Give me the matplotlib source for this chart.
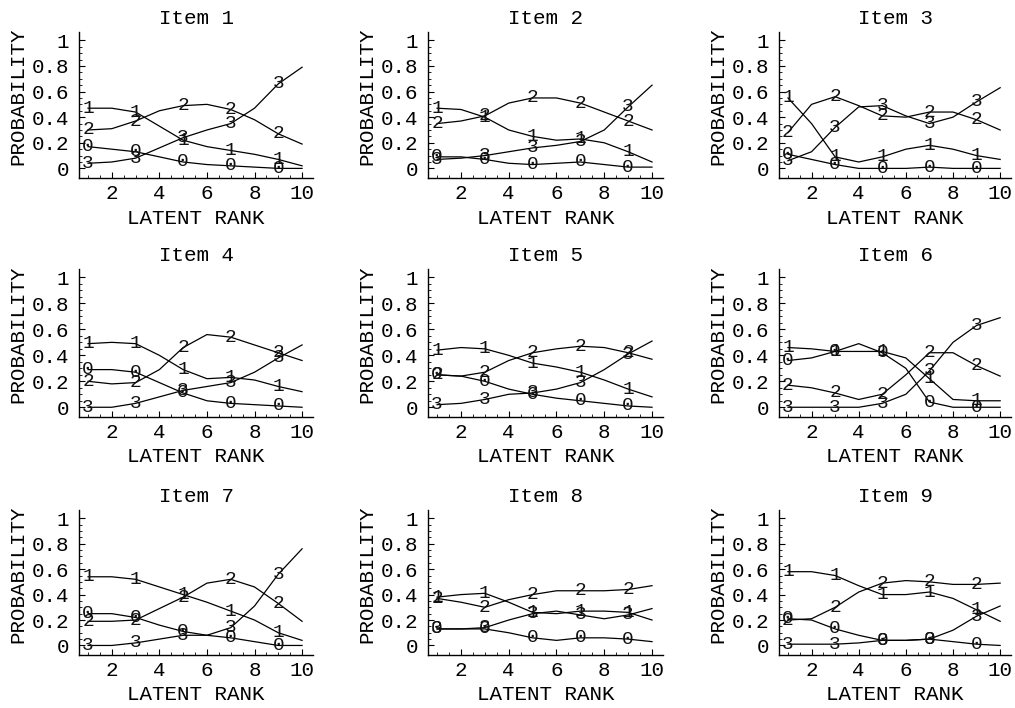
import numpy as np
import matplotlib.pyplot as plt

plt.rcParams['font.family'] = ['Liberation Mono', 'DejaVu Sans Mono']
plt.rcParams['axes.linewidth'] = 1.0

ranks = np.arange(1, 11)
label_ranks = [1, 3, 5, 7, 9]
categories = [0, 1, 2, 3]
titles = ["Item %d" % i for i in range(1, 10)]

# category response probabilities per latent rank (rows: category 0..3)
item1 = [[.17, .15, .13, .09, .05, .03, .02, .01, .00, .00],
         [.47, .47, .44, .33, .22, .17, .14, .11, .07, .02],
         [.30, .31, .37, .45, .49, .50, .46, .38, .27, .19],
         [.04, .05, .08, .16, .24, .30, .35, .47, .66, .79]]
item2 = [[.09, .09, .07, .04, .03, .04, .05, .03, .01, .01],
         [.47, .46, .40, .30, .25, .22, .23, .20, .13, .05],
         [.35, .37, .41, .51, .55, .55, .51, .44, .37, .30],
         [.07, .08, .10, .13, .16, .18, .21, .30, .48, .65]]
item3 = [[.11, .07, .03, .00, .00, .00, .01, .00, .00, .00],
         [.55, .35, .09, .05, .09, .15, .18, .15, .10, .07],
         [.28, .50, .56, .49, .41, .40, .44, .44, .38, .30],
         [.06, .13, .32, .48, .49, .41, .35, .40, .52, .63]]
item4 = [[.29, .29, .27, .19, .11, .05, .03, .02, .01, .00],
         [.49, .50, .49, .40, .29, .22, .23, .21, .16, .12],
         [.20, .18, .19, .29, .46, .56, .54, .48, .42, .36],
         [.00, .00, .03, .08, .13, .16, .19, .27, .38, .48]]
item5 = [[.25, .24, .20, .14, .10, .07, .05, .03, .01, .00],
         [.44, .46, .45, .40, .34, .31, .27, .21, .14, .08],
         [.25, .24, .27, .36, .42, .45, .47, .46, .42, .37],
         [.02, .03, .06, .10, .11, .14, .19, .29, .41, .51]]
item6 = [[.36, .38, .43, .49, .42, .30, .04, .00, .00, .00],
         [.46, .45, .43, .43, .43, .38, .22, .06, .05, .05],
         [.17, .15, .11, .06, .10, .25, .42, .42, .32, .24],
         [.00, .00, .00, .00, .03, .10, .28, .50, .63, .69]]
item7 = [[.25, .25, .22, .16, .11, .08, .06, .03, .00, .00],
         [.54, .54, .52, .46, .40, .34, .27, .20, .10, .04],
         [.19, .19, .20, .29, .38, .49, .52, .46, .33, .19],
         [.00, .00, .02, .05, .08, .08, .14, .31, .56, .76]]
item8 = [[.13, .13, .13, .10, .06, .04, .06, .06, .05, .03],
         [.38, .40, .41, .34, .26, .25, .27, .27, .26, .20],
         [.37, .34, .30, .36, .40, .43, .43, .43, .44, .47],
         [.13, .13, .14, .20, .25, .27, .24, .21, .24, .29]]
item9 = [[.21, .20, .13, .08, .04, .04, .05, .03, .01, .00],
         [.58, .58, .55, .47, .40, .40, .42, .37, .28, .19],
         [.20, .21, .30, .42, .49, .51, .50, .48, .48, .49],
         [.01, .01, .01, .02, .04, .04, .05, .12, .23, .31]]
items = [item1, item2, item3, item4, item5, item6, item7, item8, item9]

W, H = 1015, 708
fig = plt.figure(figsize=(W / 100, H / 100), dpi=100)

col_left = [79, 428, 779]
col_width = [234, 235, 232]
row_top = [32, 269, 510]
row_height = [146, 148, 145]

for idx, probs in enumerate(items):
    r, c = divmod(idx, 3)
    ax = fig.add_axes([col_left[c] / W,
                       1 - (row_top[r] + row_height[r]) / H,
                       col_width[c] / W,
                       row_height[r] / H])
    for k in categories:
        ax.plot(ranks, probs[k], color='black', lw=0.9)
        for lr in label_ranks:
            ax.text(lr, probs[k][lr - 1], str(k), ha='center', va='center',
                    fontsize=14, color='#111111')

    ax.set_xlim(0.62, 10.46)
    ax.set_ylim(-0.075, 1.065)
    ax.spines['top'].set_visible(False)
    ax.spines['right'].set_visible(False)
    ax.set_xticks([2, 4, 6, 8, 10])
    ax.set_xticks(np.arange(1, 10.5, 0.5), minor=True)
    ax.set_yticks([0, 0.2, 0.4, 0.6, 0.8, 1.0])
    ax.set_yticklabels(['0', '0.2', '0.4', '0.6', '0.8', '1'])
    ax.set_yticks(np.arange(0, 1.01, 0.05), minor=True)
    ax.tick_params(which='major', direction='in', length=4, width=0.8,
                   labelsize=15)
    ax.tick_params(axis='x', which='major', pad=4)
    ax.tick_params(axis='y', which='major', pad=7)
    ax.tick_params(which='minor', direction='in', length=2, width=0.6)

    ax.set_title(titles[idx], fontsize=15, pad=6)
    ax.set_xlabel("LATENT RANK", fontsize=15, va='center')
    ax.set_ylabel("PROBABILITY", fontsize=15, va='center')
    ax.xaxis.set_label_coords(0.5, -40 / row_height[r])
    ax.yaxis.set_label_coords(-61 / col_width[c], 0.56)

fig.savefig("out.png", dpi=100)
